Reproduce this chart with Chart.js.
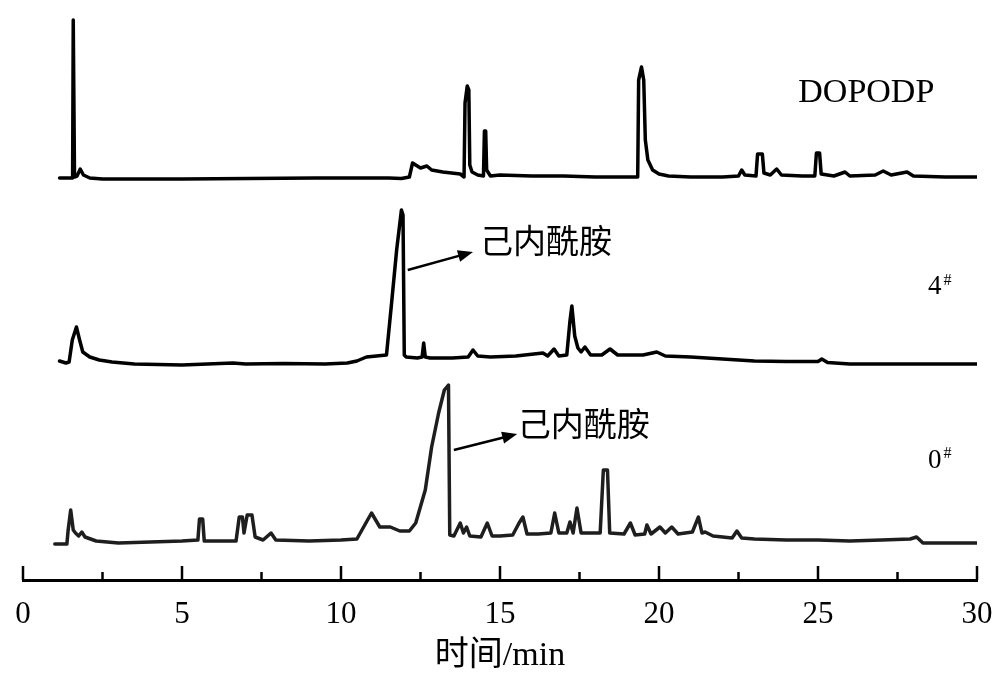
<!DOCTYPE html>
<html>
    <head>
        <meta charset="utf-8">
        <style>
            body { margin: 0; background: #fff; }
            #wrap { width: 1000px; height: 684px; }
        </style>
    </head>
    <body>

	<div id="wrap">
		<canvas id="myChart"></canvas>
	</div>

        <script src="https://cdn.jsdelivr.net/npm/chart.js"></script>

        <script>
		// retention time (min) and signal for each trace
		const dopodpTime   = [1.15, 1.5, 1.56, 1.58, 1.62, 1.7, 1.8, 1.9, 2.1, 2.5, 5, 9.2, 11.5, 11.9, 12.15, 12.25, 12.5, 12.7, 12.85, 13.2, 13.75, 13.87, 13.9, 13.97, 14.02, 14.05, 14.12, 14.3, 14.48, 14.51, 14.55, 14.58, 14.7, 15, 16, 17, 18, 19.33, 19.36, 19.45, 19.52, 19.57, 19.65, 19.8, 20, 20.3, 21, 22, 22.5, 22.6, 22.7, 23.05, 23.1, 23.25, 23.3, 23.5, 23.7, 23.85, 24.5, 24.9, 24.95, 25.05, 25.1, 25.5, 25.85, 26, 26.8, 27.05, 27.3, 27.8, 28, 29, 30];
		const dopodpSignal = [2, 2, 2, 160, 3, 4, 11, 5, 2, 1, 1, 2, 2, 1.5, 3, 17, 12, 14, 10, 8, 6, 3, 77, 94, 90, 15, 8, 5, 4, 49, 49, 10, 4, 5, 4, 4, 3, 3, 100, 113, 100, 40, 20, 10, 6, 4, 3, 3, 4, 10, 5, 4, 26, 26, 7, 5, 11, 5, 4, 4, 27, 27, 6, 4, 8, 4, 5, 9, 5, 8, 4, 3, 3];

		const s4Time   = [1.15, 1.35, 1.45, 1.55, 1.68, 1.78, 1.88, 2.1, 2.4, 2.8, 3.5, 5, 6.6, 7, 8.2, 9.5, 10.2, 10.5, 10.8, 11.43, 11.6, 11.75, 11.9, 11.95, 11.99, 12.05, 12.4, 12.55, 12.6, 12.65, 12.8, 13.5, 14, 14.15, 14.3, 14.7, 15.5, 16.35, 16.5, 16.7, 16.85, 17.1, 17.2, 17.26, 17.35, 17.45, 17.55, 17.67, 17.85, 18.2, 18.46, 18.7, 19.5, 19.93, 20.2, 21, 22, 23, 24, 25, 25.12, 25.3, 26, 27, 28, 30];
		const s4Signal = [5, 3, 4, 26, 39, 26, 14, 9, 6, 4, 2, 1, 3, 2, 2.5, 2, 3, 5, 9, 11, 66, 116, 156, 151, 11, 9, 8, 9, 23, 9, 8, 8, 9, 16, 10, 9, 10, 13, 10, 17, 10, 11, 45, 60, 30, 18, 14, 19, 11, 11, 17, 11, 11, 14, 10, 9, 7, 5, 4.5, 4.5, 7, 3.5, 2, 2, 2, 2];

		const s0Time   = [1.0, 1.38, 1.42, 1.5, 1.58, 1.65, 1.75, 1.85, 1.95, 2.3, 3, 4, 5, 5.5, 5.55, 5.65, 5.7, 6.7, 6.8, 6.9, 6.95, 7.05, 7.2, 7.3, 7.55, 7.8, 7.95, 9, 10, 10.5, 10.8, 10.96, 11.22, 11.55, 11.85, 12.15, 12.35, 12.65, 12.85, 13.07, 13.25, 13.38, 13.42, 13.55, 13.75, 13.85, 13.95, 14.05, 14.4, 14.6, 14.75, 15, 15.4, 15.6, 15.72, 15.85, 16.2, 16.6, 16.72, 16.85, 17.1, 17.2, 17.3, 17.42, 17.55, 18.15, 18.25, 18.38, 18.45, 18.9, 19.1, 19.25, 19.55, 19.62, 19.75, 20.03, 20.2, 20.4, 20.6, 21.05, 21.24, 21.35, 21.45, 21.7, 22.3, 22.45, 22.6, 23, 24, 25, 26, 27, 27.9, 28.1, 28.3, 30];
		const s0Signal = [1, 1, 15, 35, 15, 12, 9, 13, 8, 4, 2, 3, 4, 5, 26, 26, 4, 4, 28, 28, 12, 30, 30, 8, 5, 12, 5, 4, 5, 6, 23, 32, 18, 18, 14, 14, 22, 55, 98, 132, 155, 160, 10, 9, 22, 12, 18, 9, 8, 22, 9, 9, 10, 22, 28, 11, 11, 12, 32, 12, 12, 23, 12, 37, 12, 12, 75, 75, 12, 11, 22, 10, 11, 20, 11, 18, 12, 18, 11, 13, 28, 12, 13, 9, 7, 14, 7, 6, 5, 5, 4, 5, 6, 8, 2, 2];

		const traceNames   = ['DOPODP', '4#', '0#'];
		const traceOffsets = [400, 214, 35];
		const xTicks = [0, 5, 10, 15, 20, 25, 30];

		function toPoints(times, signal, offset) {
			return times.map(function (t, i) { return { x: t, y: signal[i] + offset }; });
		}

		// text labels, sample marks and arrows placed in data units
		const annotate = {
			id: 'annotate',
			afterDraw: function (chart) {
				const ctx = chart.ctx;
				const xs = chart.scales.x, ys = chart.scales.y;
				const px = function (v) { return xs.getPixelForValue(v); };
				const py = function (v) { return ys.getPixelForValue(v); };

				ctx.save();
				// tick marks pointing inward
				ctx.strokeStyle = '#000';
				ctx.lineWidth = 2.5;
				for (let v = 0; v <= 30; v += 2.5) {
					const len = (v % 5 === 0) ? 14 : 8;
					ctx.beginPath();
					ctx.moveTo(px(v), xs.top);
					ctx.lineTo(px(v), xs.top - len);
					ctx.stroke();
				}

				ctx.fillStyle = '#000';
				ctx.textBaseline = 'alphabetic';
				ctx.textAlign = 'left';
				ctx.font = '34px "Liberation Serif"';
				ctx.fillText('DOPODP', px(24.38), py(478));

				ctx.font = '27px "Liberation Serif"';
				ctx.fillText('4', px(28.46), py(286));
				ctx.fillText('0', px(28.46), py(112));
				ctx.font = '16px "Liberation Serif"';
				ctx.fillText('#', px(28.95), py(295));
				ctx.fillText('#', px(28.95), py(122));

				ctx.font = '33px "Noto Sans CJK SC"';
				ctx.textBaseline = 'middle';
				ctx.fillText('己内酰胺', px(14.37), py(340));
				ctx.fillText('己内酰胺', px(15.56), py(157));

				function arrow(t1, v1, t2, v2) {
					const x1 = px(t1), y1 = py(v1), x2 = px(t2), y2 = py(v2);
					const a = Math.atan2(y2 - y1, x2 - x1);
					ctx.lineWidth = 2.5;
					ctx.beginPath();
					ctx.moveTo(x1, y1);
					ctx.lineTo(x2 - 10 * Math.cos(a), y2 - 10 * Math.sin(a));
					ctx.stroke();
					ctx.beginPath();
					ctx.moveTo(x2, y2);
					ctx.lineTo(x2 - 15 * Math.cos(a) + 6 * Math.sin(a), y2 - 15 * Math.sin(a) - 6 * Math.cos(a));
					ctx.lineTo(x2 - 15 * Math.cos(a) - 6 * Math.sin(a), y2 - 15 * Math.sin(a) + 6 * Math.cos(a));
					ctx.closePath();
					ctx.fill();
				}
				arrow(12.10, 310, 14.15, 328);
				arrow(13.55, 130, 15.54, 146);
				ctx.restore();
			}
		};

		document.addEventListener("DOMContentLoaded", function () {
			init();
		});

		function init() {
			const ctx = document.getElementById('myChart');

			new Chart(ctx, {
				type: 'line',
				data: {
					datasets: [
						{ label: traceNames[0], data: toPoints(dopodpTime, dopodpSignal, traceOffsets[0]), borderColor: '#000' },
						{ label: traceNames[1], data: toPoints(s4Time, s4Signal, traceOffsets[1]), borderColor: '#000' },
						{ label: traceNames[2], data: toPoints(s0Time, s0Signal, traceOffsets[2]), borderColor: '#1e1e1e' }
					]
				},
				options: {
					responsive: true,
					maintainAspectRatio: false,
					animation: false,
					layout: { padding: { left: 23, right: 23, top: 10, bottom: 0 } },
					elements: {
						point: { radius: 0 },
						line: { borderWidth: 3.5, tension: 0, borderJoinStyle: 'round', borderCapStyle: 'round' }
					},
					plugins: {
						legend: { display: false },
						tooltip: { enabled: false }
					},
					scales: {
						x: {
							type: 'linear',
							min: 0,
							max: 30,
							afterBuildTicks: function (scale) {
								scale.ticks = xTicks.map(function (v) { return { value: v }; });
							},
							afterFit: function (scale) {
								scale.height = 104;
								scale.paddingLeft = 0;
								scale.paddingRight = 0;
							},
							grid: { display: true, drawOnChartArea: false, drawTicks: false },
							border: { display: true, color: '#000', width: 3 },
							ticks: {
								color: '#000',
								padding: 16,
								maxRotation: 0,
								autoSkip: false,
								font: { family: '"Liberation Serif"', size: 31 }
							},
							title: {
								display: true,
								text: '时间/min',
								color: '#000',
								padding: { top: 0, bottom: 8 },
								font: { family: '"Liberation Serif", "Noto Sans CJK SC"', size: 34 }
							}
						},
						y: {
							display: false,
							min: 0,
							max: 570
						}
					}
				},
				plugins: [annotate]
			});
		}
        </script>
    </body>
</html>
